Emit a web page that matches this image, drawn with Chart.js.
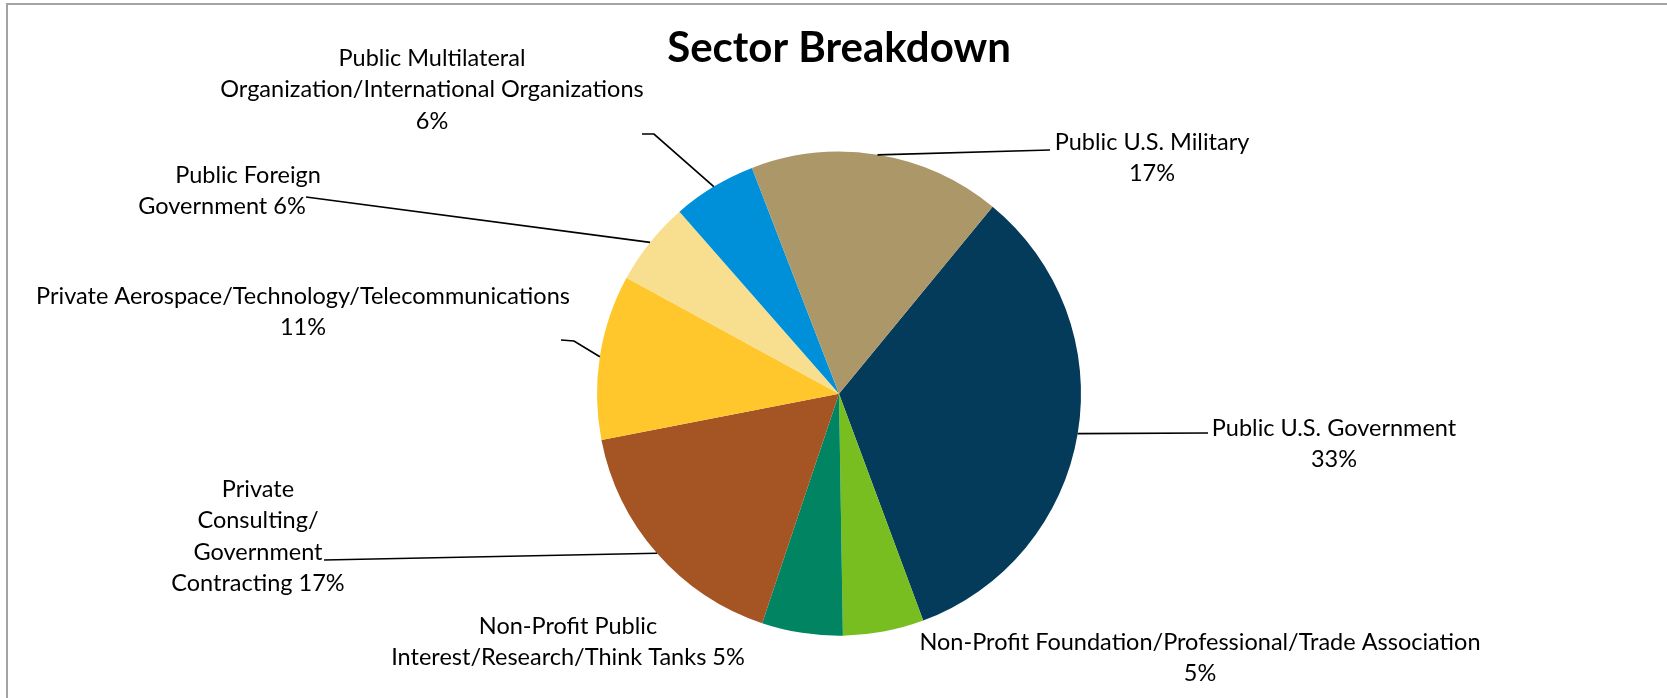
<!DOCTYPE html>
<html>
<head>
<meta charset="utf-8">
<title>Sector Breakdown</title>
<script src="https://cdn.jsdelivr.net/npm/chart.js@4/dist/chart.umd.min.js"></script>
<style>
    html, body { margin: 0; padding: 0; background: #fff; }
    #wrap { position: relative; width: 1667px; height: 698px; }
    #frame {
        position: absolute; left: 6px; top: 3px; right: 0; bottom: 0;
        border-top: 2px solid #a3a3a3; border-left: 2px solid #a3a3a3;
        pointer-events: none;
    }
</style>
</head>
<body>
<div id="wrap">
    <canvas id="sectorChart" width="1667" height="698"></canvas>
    <div id="frame"></div>
</div>
<script>
// Sector shares (percent), clockwise from the Government slice
const categories = [
    'Public U.S. Government',
    'Non-Profit Foundation/Professional/Trade Association',
    'Non-Profit Public Interest/Research/Think Tanks',
    'Private Consulting/Government Contracting',
    'Private Aerospace/Technology/Telecommunications',
    'Public Foreign Government',
    'Public Multilateral Organization/International Organizations',
    'Public U.S. Military'
];
const shares = [33.4, 5.4, 5.4, 16.8, 11.0, 5.6, 5.6, 16.8];
const sliceColors = ['#043b5a', '#78be21', '#008462', '#a55423', '#ffc72c', '#f8df8f', '#0090da', '#ab9768'];

// how each label wraps; {p} is replaced by the rounded percent
const labelLines = [
    ['Public U.S. Government', '{p}'],
    ['Non-Profit Foundation/Professional/Trade Association', '{p}'],
    ['Non-Profit Public', 'Interest/Research/Think Tanks {p}'],
    ['Private', 'Consulting/', 'Government', 'Contracting {p}'],
    ['Private Aerospace/Technology/Telecommunications', '{p}'],
    ['Public Foreign', 'Government {p}'],
    ['Public Multilateral', 'Organization/International Organizations', '{p}'],
    ['Public U.S. Military', '{p}']
];

// label placement: text centre(s) + first line y, leader path from the text side
const labelSpots = [
    { x: 1334, y: 428, leader: [[1208, 433]] },
    { x: 1200, y: 642, leader: null },
    { x: 568, y: 626, leader: null },
    { x: 258, y: 489, leader: [[324, 560]] },
    { x: 303, y: 296, leader: [[561, 340], [574, 341]] },
    { x: [248, 222], y: 175, leader: [[306, 197]] },
    { x: 432, y: 58, leader: [[642, 134], [654, 134]] },
    { x: 1152, y: 142, leader: [[1050, 150]] }
];

const outsideLabels = {
    id: 'outsideLabels',
    afterDatasetsDraw: function(chart) {
        const ctx = chart.ctx;
        const arcs = chart.getDatasetMeta(0).data;
        const total = shares.reduce((s, v) => s + v, 0);

        ctx.save();
        ctx.strokeStyle = '#000';
        ctx.lineWidth = 1.7;
        arcs.forEach((arc, i) => {
            const spot = labelSpots[i];
            if (!spot.leader) return;
            const mid = (arc.startAngle + arc.endAngle) / 2;
            ctx.beginPath();
            ctx.moveTo(spot.leader[0][0], spot.leader[0][1]);
            spot.leader.slice(1).forEach(p => ctx.lineTo(p[0], p[1]));
            ctx.lineTo(arc.x + Math.cos(mid) * arc.outerRadius, arc.y + Math.sin(mid) * arc.outerRadius);
            ctx.stroke();
        });

        ctx.font = '23.5px Lato';
        ctx.fillStyle = '#000';
        ctx.textAlign = 'center';
        ctx.textBaseline = 'middle';
        labelLines.forEach((lines, i) => {
            const spot = labelSpots[i];
            const pct = Math.round(shares[i] / total * 100) + '%';
            lines.forEach((t, k) => {
                const x = Array.isArray(spot.x) ? spot.x[k] : spot.x;
                ctx.fillText(t.replace('{p}', pct), x, spot.y + k * 31.5);
            });
        });
        ctx.restore();
    }
};

const ctx = document.getElementById('sectorChart').getContext('2d');
new Chart(ctx, {
    type: 'pie',
    data: {
        labels: categories,
        datasets: [{
            data: shares,
            backgroundColor: sliceColors,
            borderWidth: 0
        }]
    },
    options: {
        responsive: false,
        animation: false,
        rotation: 39.4,
        radius: 242,
        layout: {
            padding: { top: 0, bottom: 62, left: 11, right: 0 }
        },
        plugins: {
            legend: { display: false },
            tooltip: { enabled: false },
            title: {
                display: true,
                text: 'Sector Breakdown',
                color: '#000',
                font: { family: 'Lato', size: 42, weight: 'bold' },
                padding: { top: 23, bottom: 78 }
            }
        }
    },
    plugins: [outsideLabels]
});
</script>
</body>
</html>
